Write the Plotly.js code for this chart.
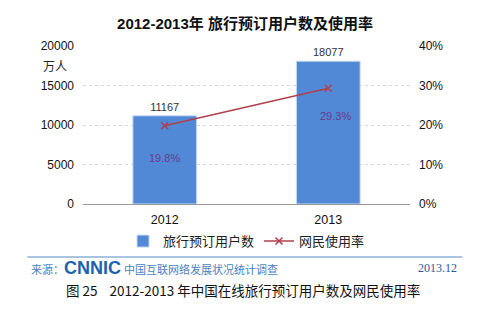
<!DOCTYPE html>
<html><head><meta charset="utf-8">
<script src="https://cdn.plot.ly/plotly-3.0.1.min.js"></script>
<style>body{margin:0;background:#fff}#c{width:490px;height:313px}</style>
</head><body><div id="c"></div>
<script>
const years = ['2012', '2013'];
const users = [11167, 18077];
const rates = [0.198, 0.293];
const rateLabels = ['19.8%', '29.3%'];
const leftTicks = [0, 5000, 10000, 15000, 20000];
const rightTicks = [0, 0.1, 0.2, 0.3, 0.4];

const F = 'Liberation Sans, Arial, Noto Sans CJK SC, sans-serif';
const traces = [
  {type:'bar', x:years, y:users, name:'旅行预订用户数', width:0.39,
   marker:{color:'#5189D6', line:{color:'#C9DAF0', width:1}},
   text:users.map(String), textposition:'outside', cliponaxis:false,
   textfont:{family:F, size:11, color:'#333'}},
  {type:'scatter', mode:'lines+markers', x:years, y:rates, yaxis:'y2', name:'网民使用率',
   line:{color:'#B0404A', width:1.5},
   marker:{symbol:'x-thin', size:7, line:{color:'#B0404A', width:1.5}, color:'#B0404A'}}
];
const ann = [
  {x:0, y:rates[0], yref:'y2', text:rateLabels[0], showarrow:false, yshift:-32, font:{family:F,size:11,color:'#6A3A8A'}},
  {x:1, y:rates[1], yref:'y2', text:rateLabels[1], showarrow:false, yshift:-28, xshift:7, font:{family:F,size:11,color:'#6A3A8A'}},
  {xref:'paper', yref:'paper', x:-0.085, y:0.87, xanchor:'center', yanchor:'middle', text:'万人', showarrow:false, font:{family:F,size:12,color:'#222'}},
  {xref:'paper', yref:'paper', x:-0.165, y:-0.405, xanchor:'left', yanchor:'middle', showarrow:false,
   text:'<span style="color:#4A7FC0">来源：</span><b style="color:#2060B0;font-size:18px">CNNIC</b><span style="color:#4A7FC0;font-size:11px"> 中国互联网络发展状况统计调查</span>', font:{family:F,size:11}},
  {xref:'paper', yref:'paper', x:1.15, y:-0.405, xanchor:'right', yanchor:'middle', showarrow:false,
   text:'2013.12', font:{family:'Liberation Serif, serif', size:12, color:'#2A5A9A'}},
  {xref:'paper', yref:'paper', x:0.49, y:-0.545, xanchor:'center', yanchor:'middle', showarrow:false,
   text:'图 25&nbsp;&nbsp;&nbsp;&nbsp;2012-2013 年中国在线旅行预订用户数及网民使用率', font:{family:'Noto Sans CJK SC, sans-serif', size:13.5, color:'#111'}}
];
const layout = {
  width:490, height:313, paper_bgcolor:'#fff', plot_bgcolor:'#fff',
  margin:{l:83, r:80, t:46, b:109},
  title:{text:'<b>2012-2013年 旅行预订用户数及使用率</b>', x:0.5, xanchor:'center', y:0.925, yanchor:'middle',
         font:{family:F, size:15, color:'#111'}},
  showlegend:true,
  legend:{orientation:'h', x:0.5, xanchor:'center', y:-0.235, yanchor:'middle', font:{family:F, size:13, color:'#222'}, itemwidth:30, tracegroupgap:0},
  xaxis:{type:'category', range:[-0.5, 1.5], autorange:false, showline:true, linecolor:'#999', linewidth:1, ticks:'', ticklabelstandoff:4, tickfont:{family:F,size:12.5,color:'#111'}},
  yaxis:{range:[0,20000], tickvals:leftTicks, ticktext:leftTicks.map(String), showgrid:true, gridcolor:'#d6d6d6', griddash:'dot',
         zeroline:false, showline:false, tickfont:{family:F,size:12,color:'#111'}, ticklabelstandoff:8},
  yaxis2:{range:[0,0.4], overlaying:'y', side:'right', tickvals:rightTicks, ticktext:rightTicks.map(v=>Math.round(v*100)+'%'),
          showgrid:false, zeroline:false, showline:false, tickfont:{family:F,size:12,color:'#111'}, ticklabelstandoff:8},
  annotations:ann,
  shapes:[{type:'line', xref:'paper', yref:'paper', x0:-0.17, x1:1.16, y0:-0.335, y1:-0.335, line:{color:'#A8C4E0', width:2}}]
};
Plotly.newPlot('c', traces, layout, {displayModeBar:false, staticPlot:true});
</script></body></html>
